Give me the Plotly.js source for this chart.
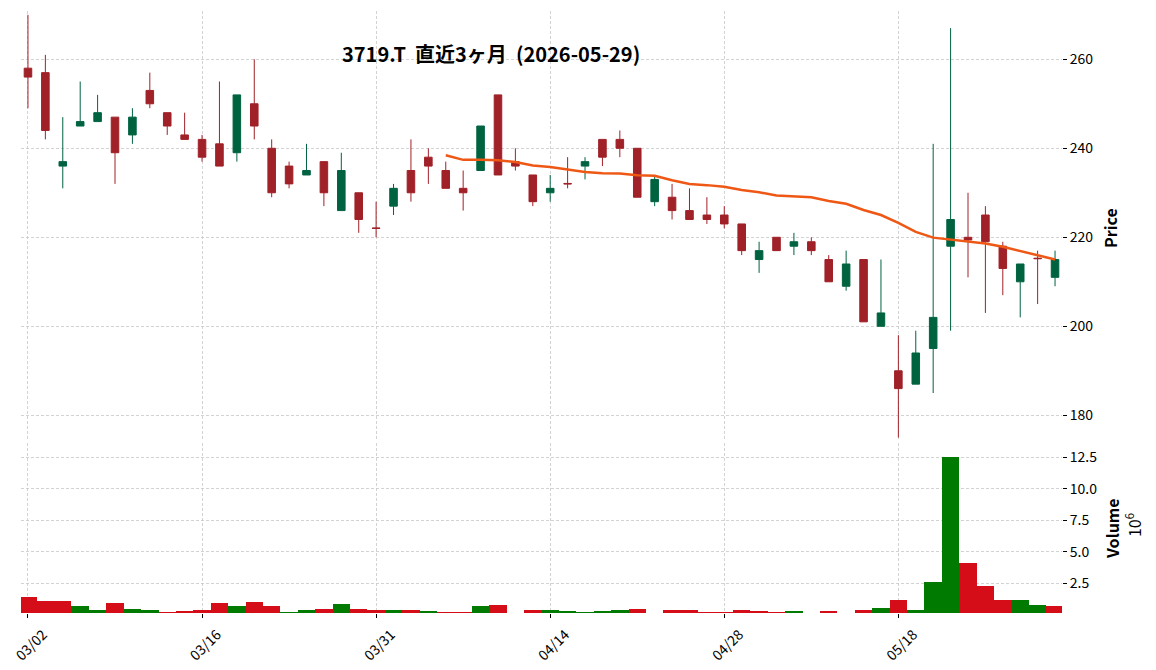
<!DOCTYPE html>
<html>
<head>
<meta charset="utf-8">
<script src="https://cdn.plot.ly/plotly-3.0.1.min.js"></script>
<style>html,body{margin:0;padding:0;background:#fff;}#chart{width:1156px;height:670px;}</style>
</head>
<body>
<div id="chart"></div>
<script>
// Trading days (MM/DD), 2026-03-02 .. 2026-05-29
const dates = [
  '03/02','03/03','03/04','03/05','03/06','03/09','03/10','03/11','03/12','03/13',
  '03/16','03/17','03/18','03/19','03/23','03/24','03/25','03/26','03/27','03/30',
  '03/31','04/01','04/02','04/03','04/06','04/07','04/08','04/09','04/10','04/13',
  '04/14','04/15','04/16','04/17','04/20','04/21','04/22','04/23','04/24','04/27',
  '04/28','04/30','05/01','05/07','05/08','05/11','05/12','05/13','05/14','05/15',
  '05/18','05/19','05/20','05/21','05/22','05/25','05/26','05/27','05/28','05/29'
];
const opens = [
  258,257,236,245,246,247,243,253,248,243,
  242,241,239,250,240,236,234,237,226,230,
  222.1,227,235,238,235,231,235,252,237,234,
  230,232.1,236,242,242,240,228,229,226,225,
  225,223,215,220,218,219,215,209,215,200,
  190,187,195,218,220,225,218,210,215.3,211
];
const highs = [
  270,261,247,255,252,247,249,257,248,248,
  243,255,252,260,242,237,241,237,239,230,
  228,232,242,240,237,235,245,252,240,234,
  234,238,238,242,244,240,234,232,231,229,
  227,223,219,220,221,220,216,217,215,215,
  198,199,241,267,230,227,219,214,217,217
];
const lows = [
  249,242,231,245,246,232,241,249,243,242,
  237,236,237,242,229,231,234,227,226,221,
  220,225,228,232,231,226,235,234,235,227,
  228,231,233,236,238,229,227,224,224,223,
  222,216,212,217,216,216,210,208,201,200,
  175,187,185,199,211,203,207,202,205,209
];
const closes = [
  256,244,237,246,248,239,247,250,245,242,
  238,236,252,245,230,232,235,230,235,224,
  222,231,230,236,231,230,245,234,236,228,
  231,232,237,238,240,229,233,226,224,224,
  223,217,217,217,219,217,210,214,201,203,
  186,194,202,224,219.4,219,213,214,215.2,215
];
// Volume in millions of shares
const volumes = [
  1.41,1.10,1.10,0.70,0.38,0.94,0.46,0.38,0.22,0.30,
  0.38,0.94,0.70,1.02,0.70,0.22,0.38,0.46,0.86,0.46,
  0.38,0.38,0.38,0.30,0.22,0.22,0.70,0.78,0.10,0.38,
  0.38,0.30,0.22,0.30,0.38,0.46,0.10,0.38,0.38,0.22,
  0.22,0.38,0.30,0.22,0.30,0.10,0.30,0.10,0.38,0.54,
  1.17,0.38,2.60,12.52,4.11,2.29,1.17,1.17,0.78,0.70
];
const tickLabels = ['03/02','03/16','03/31','04/14','04/28','05/18'];
const maWindow = 25;

// moving average of closes
const ma = closes.map((c, i) => {
  if (i < maWindow - 1) return null;
  let s = 0;
  for (let k = i - maWindow + 1; k <= i; k++) s += closes[k];
  return s / maWindow;
});
// volume colours: close vs previous close
const UPC = '#006340', DNC = '#a02128', VUP = '#007a00', VDN = '#d50d18';
const vcolors = closes.map((c, i) => {
  const prev = i === 0 ? opens[0] : closes[i - 1];
  return c > prev ? VUP : VDN;
});

const FONT = '"Noto Sans CJK JP", "Noto Sans", sans-serif';
const GRID = '#c8c8c8';

const traces = [
  {
    type: 'candlestick', x: dates, open: opens, high: highs, low: lows, close: closes,
    xaxis: 'x', yaxis: 'y',
    increasing: {line: {color: UPC, width: 1}, fillcolor: UPC},
    decreasing: {line: {color: DNC, width: 1}, fillcolor: DNC},
    whiskerwidth: 0, showlegend: false, hoverinfo: 'skip'
  },
  {
    type: 'scatter', mode: 'lines', x: dates, y: ma, xaxis: 'x', yaxis: 'y',
    line: {color: '#ef5714', width: 2.5}, connectgaps: false, showlegend: false, hoverinfo: 'skip'
  },
  {
    type: 'bar', x: dates, y: volumes, xaxis: 'x2', yaxis: 'y2',
    marker: {color: vcolors, line: {width: 0}}, width: 1, showlegend: false, hoverinfo: 'skip'
  }
];

const xcommon = {
  type: 'category', categoryorder: 'array', categoryarray: dates,
  range: [-0.4, 59.4], tickvals: tickLabels, ticktext: tickLabels,
  showgrid: true, gridcolor: GRID, gridwidth: 0.8, griddash: '3px,2px',
  zeroline: false, showline: false, fixedrange: true
};
const layout = {
  width: 1156, height: 670,
  margin: {l: 21, r: 94, t: 11, b: 57, pad: 0},
  paper_bgcolor: '#ffffff', plot_bgcolor: '#ffffff',
  font: {family: FONT, size: 14, color: '#000000'},
  showlegend: false, boxgap: 0.38, bargap: 0,
  xaxis: Object.assign({}, xcommon, {
    anchor: 'y', domain: [0, 1], showticklabels: false, ticks: '',
    rangeslider: {visible: false}, matches: 'x2'
  }),
  xaxis2: Object.assign({}, xcommon, {
    anchor: 'y2', domain: [0, 1], showticklabels: true, ticks: 'outside',
    ticklen: 4, tickwidth: 1, tickcolor: '#000', tickangle: -45, ticklabelshift: 15,
    ticklabelstandoff: 3,
    tickfont: {family: FONT, size: 14, color: '#000'}
  }),
  yaxis: {
    domain: [0.2874, 1], anchor: 'x', side: 'right', range: [174.45, 270.85],
    tickvals: [180, 200, 220, 240, 260], ticks: 'outside', ticklen: 4, tickwidth: 1, tickcolor: '#000',
    showgrid: true, gridcolor: GRID, gridwidth: 0.8, griddash: '3px,2px',
    zeroline: false, showline: false, fixedrange: true,
    tickfont: {family: FONT, size: 14, color: '#000'}
  },
  yaxis2: {
    domain: [0, 0.2824], anchor: 'x2', side: 'right', range: [0.14, 13.63],
    tickvals: [2.5, 5, 7.5, 10, 12.5], tickformat: '.1f',
    ticks: 'outside', ticklen: 4, tickwidth: 1, tickcolor: '#000',
    showgrid: true, gridcolor: GRID, gridwidth: 0.8, griddash: '3px,2px',
    zeroline: false, showline: false, fixedrange: true,
    tickfont: {family: FONT, size: 14, color: '#000'}
  },
  annotations: [
    {text: '<b>3719.T\u00a0\u00a0直近3ヶ月\u00a0\u00a0(2026-05-29)</b>', xref: 'paper', yref: 'paper',
     x: 0.4515, y: 0.9286, xanchor: 'center', yanchor: 'middle', showarrow: false,
     font: {family: FONT, size: 20, color: '#000'}},
    {text: '<b>Price</b>', xref: 'paper', yref: 'paper', x: 1.0461, y: 0.6395,
     xanchor: 'center', yanchor: 'middle', textangle: -90, showarrow: false,
     font: {family: FONT, size: 16, color: '#000'}},
    {text: '<b>Volume</b>', xref: 'paper', yref: 'paper', x: 1.048, y: 0.1412,
     xanchor: 'center', yanchor: 'middle', textangle: -90, showarrow: false,
     font: {family: FONT, size: 16, color: '#000'}},
    {text: '10<sup>6</sup>', xref: 'paper', yref: 'paper', x: 1.0692, y: 0.1462,
     xanchor: 'center', yanchor: 'middle', textangle: -90, showarrow: false,
     font: {family: FONT, size: 16, color: '#000'}}
  ]
};

Plotly.newPlot('chart', traces, layout, {displayModeBar: false, staticPlot: true});
</script>
</body>
</html>
